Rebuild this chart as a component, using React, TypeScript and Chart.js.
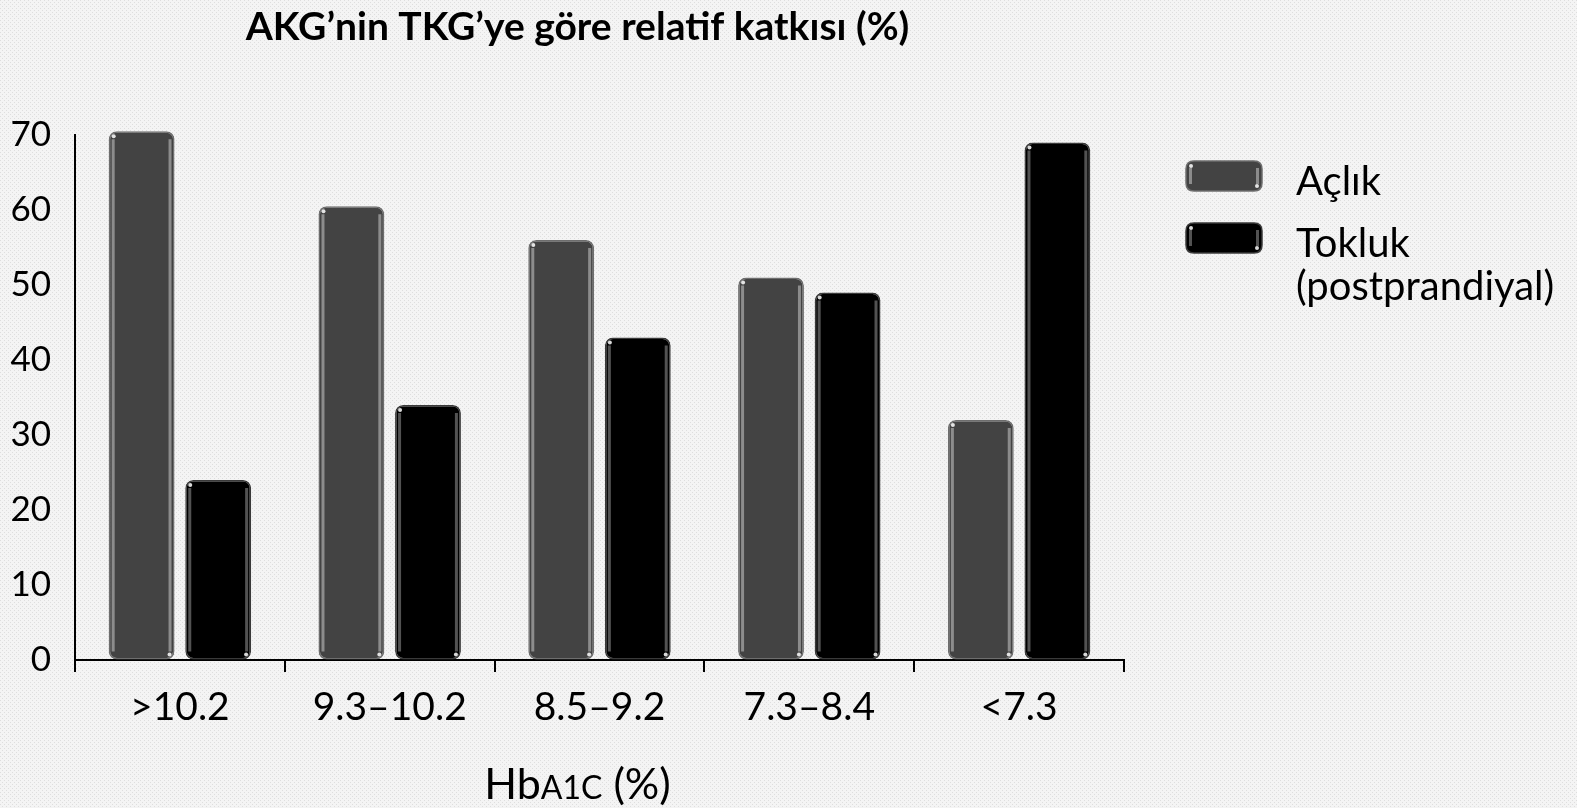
import React, { useEffect, useRef } from "react";
import { Chart, registerables } from "chart.js";

Chart.register(...registerables);

const categories = [">10.2", "9.3–10.2", "8.5–9.2", "7.3–8.4", "<7.3"];
const aclikValues = [70.5, 60.5, 56, 51, 32];
const toklukValues = [24, 34, 43, 49, 69];
const seriesNames = ["Açlık", "Tokluk (postprandiyal)"];
const legendLines = [["Açlık"], ["Tokluk", "(postprandiyal)"]];
const yTicks = [0, 10, 20, 30, 40, 50, 60, 70];
const titleText = "AKG’nin TKG’ye göre relatif katkısı (%)";
const axisTitleParts = ["Hb", "A1C", " (%)"];

const FONT = "Lato, 'Open Sans', sans-serif";
const fills = ["#434343", "#000000"];
const rims = ["#6e6e6e", "#3a3a3a"];
const highlights = ["rgba(200,200,200,0.55)", "rgba(150,150,150,0.55)"];

function makePattern(ctx: CanvasRenderingContext2D) {
  const c = document.createElement("canvas");
  c.width = 4;
  c.height = 4;
  const p = c.getContext("2d")!;
  p.fillStyle = "#f4f4f4";
  p.fillRect(0, 0, 4, 4);
  p.fillStyle = "#dedede";
  p.fillRect(0, 0, 1, 1);
  p.fillRect(2, 2, 1, 1);
  return ctx.createPattern(c, "repeat");
}

function roundRect(ctx: CanvasRenderingContext2D, x: number, y: number, w: number, h: number, r: number) {
  ctx.beginPath();
  ctx.moveTo(x + r, y);
  ctx.lineTo(x + w - r, y);
  ctx.quadraticCurveTo(x + w, y, x + w, y + r);
  ctx.lineTo(x + w, y + h - r);
  ctx.quadraticCurveTo(x + w, y + h, x + w - r, y + h);
  ctx.lineTo(x + r, y + h);
  ctx.quadraticCurveTo(x, y + h, x, y + h - r);
  ctx.lineTo(x, y + r);
  ctx.quadraticCurveTo(x, y, x + r, y);
  ctx.closePath();
}

function drawGlossyBox(ctx: CanvasRenderingContext2D, i: number, left: number, top: number, w: number, h: number) {
  ctx.save();
  roundRect(ctx, left, top, w, h, Math.min(8, h / 3));
  ctx.fillStyle = fills[i];
  ctx.fill();
  ctx.lineWidth = 1.5;
  ctx.strokeStyle = rims[i];
  ctx.stroke();
  ctx.fillStyle = highlights[i];
  const inset = Math.min(7, h / 4);
  ctx.fillRect(left + 3, top + inset, 3, h - 2 * inset);
  ctx.fillRect(left + w - 6, top + inset, 3, h - 2 * inset);
  ctx.fillStyle = "rgba(255,255,255,0.85)";
  ctx.beginPath();
  ctx.arc(left + 5, top + 5, 2, 0, Math.PI * 2);
  ctx.fill();
  ctx.beginPath();
  ctx.arc(left + w - 5, top + h - 5, 2, 0, Math.PI * 2);
  ctx.fill();
  ctx.restore();
}

const decorPlugin = {
  id: "decor",
  beforeDraw(chart: any) {
    const ctx = chart.ctx;
    ctx.save();
    ctx.fillStyle = makePattern(ctx) || "#f0f0f0";
    ctx.fillRect(0, 0, chart.width, chart.height);
    ctx.restore();
  },
  afterDatasetsDraw(chart: any) {
    const ctx = chart.ctx;
    chart.data.datasets.forEach((_: any, di: number) => {
      const meta = chart.getDatasetMeta(di);
      meta.data.forEach((el: any) => {
        const { x, y, base, width } = el.getProps(["x", "y", "base", "width"], true);
        const left = x - width / 2;
        const h = base - y;
        ctx.save();
        ctx.fillStyle = highlights[di];
        ctx.fillRect(left + 3, y + 8, 3, h - 16);
        ctx.fillRect(left + width - 6, y + 8, 3, h - 16);
        ctx.fillStyle = "rgba(255,255,255,0.85)";
        ctx.beginPath();
        ctx.arc(left + 5, y + 5, 2, 0, Math.PI * 2);
        ctx.fill();
        ctx.beginPath();
        ctx.arc(left + width - 5, base - 5, 2, 0, Math.PI * 2);
        ctx.fill();
        ctx.restore();
      });
    });
  },
  afterDraw(chart: any) {
    const ctx = chart.ctx;
    const area = chart.chartArea;
    ctx.save();
    ctx.fillStyle = "#000";
    // title
    ctx.font = `bold 39px ${FONT}`;
    ctx.textAlign = "center";
    ctx.textBaseline = "middle";
    const cx = (area.left + area.right) / 2 - 22;
    ctx.fillText(titleText, cx, 27);
    // x axis title with small A1C
    const big = `43px ${FONT}`;
    const small = `32px ${FONT}`;
    ctx.textAlign = "left";
    ctx.textBaseline = "alphabetic";
    const fontsArr = [big, small, big];
    let total = 0;
    const widths = axisTitleParts.map((t, i) => {
      ctx.font = fontsArr[i];
      const w = ctx.measureText(t).width;
      total += w;
      return w;
    });
    let xx = cx - total / 2;
    const baseY = 799;
    axisTitleParts.forEach((t, i) => {
      ctx.font = fontsArr[i];
      ctx.fillText(t, xx, baseY);
      xx += widths[i];
    });
    // legend
    const legendX = area.right + 62;
    const boxW = 76;
    const boxH = 30;
    const rowTops = [161, 223];
    ctx.font = `40px ${FONT}`;
    ctx.textBaseline = "middle";
    legendLines.forEach((lines, i) => {
      drawGlossyBox(ctx, i, legendX, rowTops[i], boxW, boxH);
      lines.forEach((line, li) => {
        ctx.fillText(line, legendX + 110, rowTops[i] + 21 + li * 43);
      });
    });
    ctx.restore();
  },
};

export default function App() {
  const ref = useRef<HTMLCanvasElement | null>(null);
  useEffect(() => {
    document.body.style.margin = "0";
    const canvas = ref.current!;
    const chart = new Chart(canvas, {
      type: "bar",
      data: {
        labels: categories,
        datasets: [
          {
            label: seriesNames[0],
            data: aclikValues,
            backgroundColor: fills[0],
            borderColor: rims[0],
            borderWidth: 1.5,
            borderRadius: 8,
            borderSkipped: false,
            categoryPercentage: 0.73,
            barPercentage: 0.86,
          },
          {
            label: seriesNames[1],
            data: toklukValues,
            backgroundColor: fills[1],
            borderColor: rims[1],
            borderWidth: 1.5,
            borderRadius: 8,
            borderSkipped: false,
            categoryPercentage: 0.73,
            barPercentage: 0.86,
          },
        ],
      },
      options: {
        responsive: false,
        animation: false,
        clip: false as any,
        layout: { padding: { top: 135, right: 453, left: 0, bottom: 0 } },
        plugins: {
          legend: { display: false },
          title: { display: false },
          tooltip: { enabled: false },
        },
        scales: {
          x: {
            grid: { drawOnChartArea: false, drawTicks: true, tickLength: 12, color: "#000", lineWidth: 2, offset: true },
            border: { color: "#000", width: 2 },
            ticks: { color: "#000", font: { family: FONT, size: 39 }, padding: 12, maxRotation: 0 },
            afterFit: (s: any) => {
              s.height = 148;
            },
          },
          y: {
            min: 0,
            max: 70,
            afterBuildTicks: (s: any) => {
              s.ticks = yTicks.map((v) => ({ value: v }));
            },
            grid: { drawOnChartArea: false, drawTicks: false },
            border: { color: "#000", width: 2 },
            ticks: { color: "#000", font: { family: FONT, size: 35 }, padding: 24 },
            afterFit: (s: any) => {
              s.width = 75;
            },
          },
        },
      },
      plugins: [decorPlugin],
    });
    return () => chart.destroy();
  }, []);
  return <canvas ref={ref} width={1577} height={808} style={{ display: "block", width: 1577, height: 808 }} />;
}
